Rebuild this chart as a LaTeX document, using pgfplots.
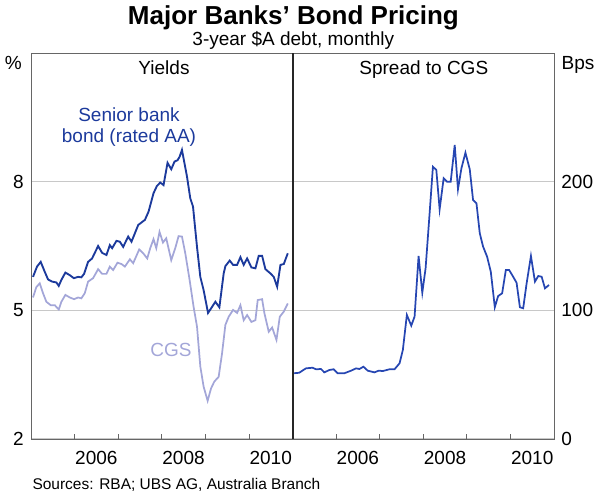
\documentclass[border=0pt]{standalone}
\usepackage{pgfplots}
\pgfplotsset{compat=1.18}
\usepackage{fontspec}
\setmainfont{Liberation Sans}
\definecolor{senior}{HTML}{1C3A9C}
\definecolor{spread}{HTML}{2646B2}
\definecolor{cgs}{HTML}{A3A6D8}
\definecolor{gridc}{HTML}{C8C8C8}
\definecolor{framec}{HTML}{666666}
\pgfplotsset{
  rbapanel/.style={
    scale only axis, width=196.125pt, height=289.5pt,
    xmin=2005, xmax=2011,
    axis line style={framec, line width=0.6pt},
    xtick={2006.5,2008.5,2010.5},
    xticklabels={2006,2008,2010},
    minor xtick={2006,2007,2008,2009,2010},
    major tick length=0pt,
    minor tick length=3.75pt,
    tick align=inside,
    xtick pos=lower,
    ymajorgrids,
    major grid style={gridc, line width=0.9pt},
    tick style={framec, line width=0.6pt},
    ticklabel style={font=\fontsize{14.25}{16}\selectfont},
    /pgf/number format/assume math mode=true,
    xticklabel style={yshift=-6pt},
    clip=true,
  }
}
\begin{document}
\begin{tikzpicture}
\useasboundingbox (0,0) rectangle (450pt,372pt);
% Left panel: yields
\begin{axis}[rbapanel, at={(23.25pt,42.75pt)}, anchor=south west,
  ymin=2, ymax=11, ytick={2,5,8}, ytick pos=left,
  yticklabel style={anchor=east, xshift=-2pt}]
\addplot[cgs, line width=1.3pt] coordinates {
(2005.046,5.30)(2005.122,5.54)(2005.200,5.63)(2005.276,5.40)(2005.352,5.20)
(2005.453,5.12)(2005.545,5.12)(2005.637,5.02)(2005.697,5.20)(2005.789,5.36)
(2005.890,5.30)(2005.989,5.26)(2006.080,5.30)(2006.156,5.28)(2006.234,5.40)
(2006.310,5.67)(2006.425,5.75)(2006.540,5.96)(2006.632,5.85)(2006.731,5.85)
(2006.809,6.02)(2006.885,5.94)(2006.984,6.11)(2007.076,6.08)(2007.154,6.02)
(2007.269,6.19)(2007.345,6.10)(2007.483,6.42)(2007.575,6.33)(2007.667,6.21)
(2007.736,6.45)(2007.811,6.66)(2007.874,6.45)(2007.949,6.83)(2008.028,6.58)
(2008.103,6.68)(2008.218,6.17)(2008.310,6.45)(2008.386,6.73)(2008.464,6.72)
(2008.540,6.33)(2008.639,5.71)(2008.731,5.08)(2008.809,4.62)(2008.885,3.69)
(2008.961,3.22)(2009.053,2.89)(2009.131,3.18)(2009.207,3.34)(2009.306,3.45)
(2009.384,4.00)(2009.460,4.66)(2009.536,4.85)(2009.637,5.01)(2009.729,4.94)
(2009.805,5.12)(2009.880,4.77)(2009.959,4.89)(2010.057,4.73)(2010.149,4.77)
(2010.202,5.24)(2010.303,5.26)(2010.356,4.93)(2010.455,4.50)(2010.533,4.60)
(2010.632,4.31)(2010.708,4.85)(2010.800,4.97)(2010.892,5.16)
};
\addplot[senior, line width=1.4pt] coordinates {
(2005.046,5.78)(2005.138,6.02)(2005.223,6.13)(2005.315,5.90)(2005.391,5.72)
(2005.483,5.67)(2005.582,5.65)(2005.637,5.57)(2005.697,5.71)(2005.789,5.88)
(2005.890,5.82)(2005.982,5.75)(2006.080,5.78)(2006.156,5.77)(2006.218,5.85)
(2006.310,6.13)(2006.402,6.21)(2006.540,6.50)(2006.632,6.34)(2006.731,6.29)
(2006.809,6.52)(2006.862,6.45)(2006.961,6.62)(2007.039,6.60)(2007.115,6.48)
(2007.230,6.72)(2007.306,6.60)(2007.460,6.99)(2007.614,7.11)(2007.697,7.30)
(2007.811,7.73)(2007.889,7.90)(2007.966,7.98)(2008.041,7.92)(2008.133,8.44)
(2008.218,8.29)(2008.294,8.47)(2008.363,8.50)(2008.409,8.58)(2008.464,8.74)
(2008.579,8.12)(2008.655,7.61)(2008.717,7.42)(2008.809,6.48)(2008.885,5.78)
(2008.961,5.47)(2009.062,4.94)(2009.154,5.08)(2009.230,5.20)(2009.322,5.07)
(2009.421,5.86)(2009.460,6.03)(2009.559,6.16)(2009.637,6.06)(2009.729,6.06)
(2009.805,6.24)(2009.880,6.06)(2009.959,6.21)(2010.057,6.00)(2010.149,5.98)
(2010.225,6.27)(2010.303,6.27)(2010.379,5.96)(2010.494,5.86)(2010.570,5.78)
(2010.648,5.55)(2010.724,6.06)(2010.800,6.08)(2010.892,6.33)
};
\end{axis}
% Right panel: spread
\begin{axis}[rbapanel, at={(219.375pt,42.75pt)}, anchor=south west,
  ymin=0, ymax=300, ytick={0,100,200}, ytick pos=right,
  yticklabel pos=right,
  yticklabel style={anchor=west, xshift=2pt}]
\addplot[spread, line width=1.3pt] coordinates {
(2005.039,51.1)(2005.154,51.5)(2005.308,54.9)(2005.460,55.4)(2005.539,54.2)
(2005.654,54.4)(2005.730,51.8)(2005.845,53.6)(2005.944,54.2)(2006.036,51.1)
(2006.190,51.1)(2006.344,53.1)(2006.459,54.9)(2006.535,54.4)(2006.627,56.2)
(2006.726,53.1)(2006.880,51.8)(2006.979,53.1)(2007.071,52.8)(2007.226,54.2)
(2007.341,54.2)(2007.456,58.8)(2007.532,69.2)(2007.624,96.4)(2007.725,88.1)
(2007.801,95.1)(2007.893,142.2)(2007.978,113.7)(2008.054,132.7)(2008.146,175.4)
(2008.222,211.6)(2008.300,209.1)(2008.376,178.5)(2008.468,202.6)(2008.544,200.0)
(2008.630,200.0)(2008.722,228.5)(2008.797,194.1)(2008.876,210.4)(2008.968,222.5)
(2009.067,209.6)(2009.143,185.7)(2009.221,183.2)(2009.297,159.9)(2009.373,149.5)
(2009.465,141.7)(2009.550,130.0)(2009.642,102.4)(2009.718,111.1)(2009.810,113.2)
(2009.895,131.3)(2009.971,131.3)(2010.063,126.1)(2010.141,121.5)(2010.218,102.4)
(2010.293,101.6)(2010.372,121.0)(2010.471,142.2)(2010.563,122.3)(2010.639,126.7)
(2010.717,126.1)(2010.793,117.1)(2010.885,119.7)
};
\end{axis}
% divider
\draw[black!85, line width=1.5pt] (219.375pt,42.75pt) -- (219.375pt,332.25pt);
% text in pixel coordinates
\begin{scope}[x=0.75pt, y=-0.75pt, yshift=372pt]
\node[anchor=base, inner sep=0pt, font=\bfseries\fontsize{19.5}{22}\selectfont] at (293.4,25) {Major Banks’ Bond Pricing};
\node[anchor=base, inner sep=0pt, font=\fontsize{14.25}{16}\selectfont] at (293.3,46) {3-year \$A debt, monthly};
\node[anchor=base, inner sep=0pt, font=\fontsize{14.25}{16}\selectfont] at (164,75) {Yields};
\node[anchor=base, inner sep=0pt, font=\fontsize{14.25}{16}\selectfont] at (423.8,74.3) {Spread to CGS};
\node[anchor=base, inner sep=0pt, font=\fontsize{14.25}{16}\selectfont] at (13.3,70) {\%};
\node[anchor=base, inner sep=0pt, font=\fontsize{14.25}{16}\selectfont] at (578,70) {Bps};
\node[anchor=base, inner sep=0pt, text=senior, font=\fontsize{14.25}{16}\selectfont] at (129,121.7) {Senior bank};
\node[anchor=base, inner sep=0pt, text=senior, font=\fontsize{14.25}{16}\selectfont] at (129,142.7) {bond (rated AA)};
\node[anchor=base, inner sep=0pt, text=cgs, font=\fontsize{14.25}{16}\selectfont] at (171,356.7) {CGS};
\node[anchor=base west, inner sep=0pt, font=\fontsize{11.6}{14}\selectfont] at (32.3,490) {Sources: RBA; UBS AG, Australia Branch};
\end{scope}
\end{tikzpicture}
\end{document}
